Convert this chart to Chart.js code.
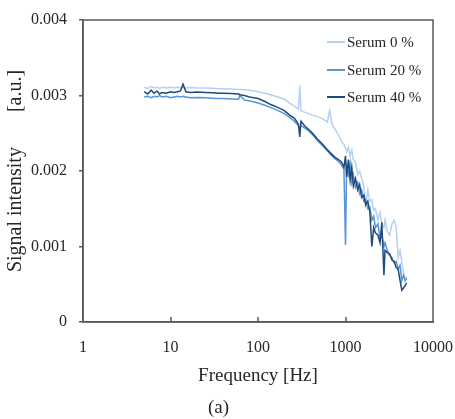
<!DOCTYPE html>
<html>
<head>
<meta charset="utf-8">
<script src="https://cdn.jsdelivr.net/npm/chart.js@4/dist/chart.umd.min.js"></script>
<style>
  html, body { margin: 0; padding: 0; background: #fff; }
  #wrap { width: 455px; height: 419px; }
</style>
</head>
<body>
<div id="wrap"><canvas id="chart"></canvas></div>
<script>
// ─── Data ────────────────────────────────────────────────────────────────────

const FREQ = [
  5, 5.5, 6, 6.5, 7, 7.5, 8, 9, 10, 11, 12, 13, 13.9, 15, 17, 20, 25, 30, 35, 40,
  50, 60, 62, 70, 80, 100, 120, 140, 170, 200, 230, 260, 290, 300, 310, 340, 380, 420, 480, 550,
  620, 660, 700, 760, 830, 900, 960, 1000, 1030, 1080, 1130, 1180, 1230, 1300, 1380, 1450, 1530, 1620, 1700, 1800,
  1900, 2000, 2100, 2200, 2350, 2480, 2600, 2750, 2830, 3000, 3200, 3400, 3600, 3800, 4000, 4200, 4400, 4600, 4800, 5000,
];

// Serum 0 %
const SERUM_0 = [
  3.11, 3.09, 3.12, 3.10, 3.11, 3.09, 3.11, 3.10, 3.11, 3.10, 3.11, 3.10, 3.11, 3.10, 3.105, 3.10, 3.10, 3.095, 3.09, 3.09,
  3.085, 3.08, 3.08, 3.075, 3.07, 3.05, 3.03, 3.01, 2.98, 2.95, 2.90, 2.86, 2.82, 3.13, 2.80, 2.78, 2.76, 2.74, 2.72, 2.69,
  2.65, 2.80, 2.62, 2.55, 2.48, 2.40, 2.35, 2.30, 2.25, 2.32, 2.20, 2.28, 2.15, 2.12, 1.95, 2.00, 1.90, 1.80, 1.55, 1.75,
  1.60, 1.62, 1.48, 1.50, 1.35, 1.45, 1.30, 1.25, 1.35, 1.20, 1.15, 1.30, 1.35, 1.25, 0.85, 0.95, 0.80, 0.65, 0.55, 0.60,
];

// Serum 20 %
const SERUM_20 = [
  2.98, 2.99, 2.97, 2.99, 2.98, 3.00, 2.98, 2.99, 2.97, 2.98, 2.99, 2.98, 2.99, 2.98, 2.97, 2.975, 2.97, 2.965, 2.96, 2.96,
  2.955, 2.95, 3.00, 2.94, 2.93, 2.90, 2.87, 2.84, 2.80, 2.76, 2.71, 2.66, 2.60, 2.58, 2.60, 2.57, 2.53, 2.48, 2.40, 2.33,
  2.27, 2.23, 2.20, 2.16, 2.13, 2.08, 2.02, 1.02, 2.05, 1.95, 2.10, 1.85, 1.95, 1.78, 1.85, 1.70, 1.75, 1.60, 1.62, 1.50,
  1.52, 1.35, 1.40, 1.25, 1.30, 1.10, 1.15, 1.00, 1.05, 0.95, 0.88, 0.85, 0.78, 0.80, 0.70, 0.75, 0.55, 0.62, 0.55, 0.58,
];

// Serum 40 %
const SERUM_40 = [
  3.05, 3.02, 3.07, 3.03, 3.06, 3.02, 3.04, 3.03, 3.05, 3.04, 3.05, 3.06, 3.15, 3.05, 3.04, 3.045, 3.04, 3.035, 3.03, 3.03,
  3.025, 3.02, 3.01, 3.00, 2.98, 2.96, 2.92, 2.88, 2.84, 2.80, 2.74, 2.70, 2.62, 2.45, 2.66, 2.60, 2.55, 2.50, 2.42, 2.35,
  2.28, 2.25, 2.22, 2.18, 2.15, 2.12, 2.05, 2.20, 1.92, 2.15, 1.88, 2.05, 1.80, 1.90, 1.75, 1.82, 1.65, 1.68, 1.55, 1.60,
  1.45, 1.00, 1.25, 1.18, 1.15, 1.05, 1.32, 0.62, 0.95, 0.92, 0.90, 0.82, 0.80, 0.72, 0.70, 0.55, 0.42, 0.45, 0.48, 0.52,
];

const SERIES_LABELS = ['Serum 0 %', 'Serum 20 %', 'Serum 40 %'];
const SERIES_COLORS = ['#B4D2EF', '#5596D7', '#1F4A7C'];

const X_TICKS = [1, 10, 100, 1000, 10000];
const Y_TICKS = [0, 0.001, 0.002, 0.003, 0.004];
const Y_TICK_LABELS = ['0', '0.001', '0.002', '0.003', '0.004'];

// ─── Helpers ────────────────────────────────────────────────────────────────

const FONT = 'Liberation Serif';
const AXIS_COLOR = '#5a5a5a';
const TEXT_COLOR = '#262626';

function toPoints(values) {
  return FREQ.map((f, i) => ({ x: f, y: values[i] / 1000 }));
}

// box around the plot area + inward tick marks on the frequency axis
const frame = {
  id: 'frame',
  afterDatasetsDraw(chart) {
    const { ctx, chartArea: a } = chart;
    const xs = chart.scales.x;
    ctx.save();
    ctx.strokeStyle = AXIS_COLOR;
    ctx.lineWidth = 1.5;
    ctx.strokeRect(a.left, a.top, a.right - a.left, a.bottom - a.top);
    ctx.beginPath();
    X_TICKS.slice(1, -1).forEach(v => {
      const px = Math.round(xs.getPixelForValue(v));
      ctx.moveTo(px, a.bottom);
      ctx.lineTo(px, a.bottom - 5);
    });
    ctx.stroke();
    ctx.restore();
  },
};

// legend drawn inside the top right corner, line swatches
const insideLegend = {
  id: 'insideLegend',
  afterDraw(chart) {
    const { ctx, chartArea: a } = chart;
    const x0 = a.right - 106;
    const rows = [22, 50, 77];
    ctx.save();
    ctx.font = `15px "${FONT}"`;
    ctx.textBaseline = 'middle';
    ctx.fillStyle = TEXT_COLOR;
    SERIES_LABELS.forEach((label, i) => {
      const y = a.top + rows[i];
      ctx.strokeStyle = SERIES_COLORS[i];
      ctx.lineWidth = 2;
      ctx.beginPath();
      ctx.moveTo(x0, y);
      ctx.lineTo(x0 + 18, y);
      ctx.stroke();
      ctx.fillText(label, x0 + 20, y + 1);
    });
    ctx.restore();
  },
};

// ─── Chart ──────────────────────────────────────────────────────────────────

const datasets = [SERUM_0, SERUM_20, SERUM_40].map((vals, i) => ({
  label: SERIES_LABELS[i],
  data: toPoints(vals),
  borderColor: SERIES_COLORS[i],
  borderWidth: 1.5,
  pointRadius: 0,
  tension: 0,
  order: 3 - i,
}));

new Chart(document.getElementById('chart'), {
  type: 'line',
  data: { datasets },
  options: {
    responsive: true,
    maintainAspectRatio: false,
    animation: false,
    layout: { padding: { top: 20, right: 22, left: 4, bottom: 0 } },
    plugins: {
      legend: { display: false },
      tooltip: { enabled: false },
      title: {
        display: true,
        position: 'bottom',
        text: '(a)',
        color: TEXT_COLOR,
        font: { family: FONT, size: 19, weight: 'normal' },
        padding: { top: 0, bottom: 0 },
      },
    },
    scales: {
      x: {
        type: 'logarithmic',
        min: 1,
        max: 10000,
        afterBuildTicks: s => { s.ticks = X_TICKS.map(v => ({ value: v })); },
        afterFit: s => {
          s.height = 419 - 322 - 22.8;
          s.paddingLeft = 0;
          s.paddingRight = 0;
        },
        ticks: {
          color: TEXT_COLOR,
          font: { family: FONT, size: 16 },
          padding: 16,
          maxRotation: 0,
          callback: v => String(v),
        },
        grid: { drawOnChartArea: false, drawTicks: false },
        border: { color: AXIS_COLOR, width: 1.5 },
        title: {
          display: true,
          text: 'Frequency [Hz]',
          color: TEXT_COLOR,
          font: { family: FONT, size: 19 },
          padding: { top: 0, bottom: 9 },
        },
      },
      y: {
        min: 0,
        max: 0.004,
        afterBuildTicks: s => { s.ticks = Y_TICKS.map(v => ({ value: v })); },
        afterFit: s => {
          s.width = 83 - 4;
          s.paddingTop = 0;
          s.paddingBottom = 0;
        },
        ticks: {
          color: TEXT_COLOR,
          font: { family: FONT, size: 16 },
          padding: 12,
          callback: (v, i) => Y_TICK_LABELS[i],
        },
        grid: { drawOnChartArea: false, drawTicks: true, tickLength: 4, color: AXIS_COLOR, lineWidth: 1.5 },
        border: { color: AXIS_COLOR, width: 1.5 },
        title: {
          display: true,
          text: 'Signal intensity       [a.u.]',
          color: TEXT_COLOR,
          font: { family: FONT, size: 20 },
          padding: { top: 0, bottom: 0 },
        },
      },
    },
  },
  plugins: [frame, insideLegend],
});
</script>
</body>
</html>
